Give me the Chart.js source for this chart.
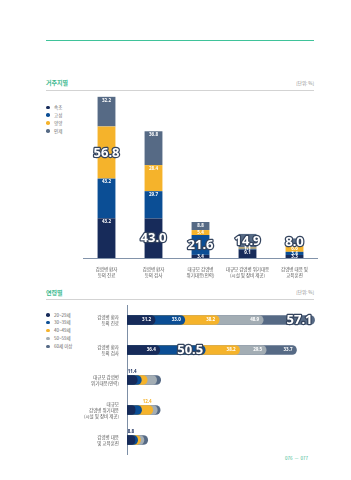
<!DOCTYPE html>
<html>
<head>
<meta charset="utf-8">
<script src="https://cdn.jsdelivr.net/npm/chart.js@4"></script>
<style>
  body { margin: 0; width: 351px; height: 480px; position: relative; background: #fff; overflow: hidden;
         font-family: "Noto Sans CJK KR", "Noto Sans", sans-serif; }
  .abs { position: absolute; }
  .topline { left: 46px; top: 40px; width: 268px; height: 1px; background: #3fc39a; }
  .head { left: 46px; font-size: 6px; font-weight: bold; color: #3cb98f; line-height: 6px; }
  .rule { left: 46px; width: 268px; height: 1px; background: #d3d3d3; }
  .unit { right: 37px; font-size: 4.5px; color: #888; line-height: 5px; }
  .legend { left: 46px; font-size: 4.5px; color: #666; }
  .legend div { height: 7.9px; line-height: 4.5px; position: relative; padding-left: 8px; }
  .legend i { position: absolute; left: 0; top: 0.5px; width: 3.6px; height: 3.6px; border-radius: 50%; }
  .page { left: 285px; top: 456px; font-size: 4.5px; color: #3cb98f; line-height: 5px; }
  .box { position: absolute; }
</style>
</head>
<body>
<div class="abs topline"></div>

<div class="abs head" style="top:80px">거주지별</div>
<div class="abs unit" style="top:81px">[단위: %]</div>
<div class="abs rule" style="top:90px"></div>
<div class="abs legend" style="top:105px">
  <div><i style="background:#172b5a"></i>속초</div>
  <div><i style="background:#0b4e95"></i>고성</div>
  <div><i style="background:#f5b32b"></i>양양</div>
  <div><i style="background:#566a85"></i>인제</div>
</div>
<div class="box" style="left:83px;top:88px;width:235px;height:196px"><canvas id="regionChart"></canvas></div>

<div class="abs head" style="top:290px">연령별</div>
<div class="abs unit" style="top:290px">[단위: %]</div>
<div class="abs rule" style="top:299px"></div>
<div class="abs legend" style="top:312.5px">
  <div><i style="background:#172b5a"></i>20~29세</div>
  <div><i style="background:#0b4e95"></i>30~39세</div>
  <div><i style="background:#f5b32b"></i>40~49세</div>
  <div><i style="background:#a3adb4"></i>50~59세</div>
  <div><i style="background:#566a85"></i>60세 이상</div>
</div>
<div class="box" style="left:40px;top:305px;width:276px;height:150px"><canvas id="ageChart"></canvas></div>

<div class="abs page">076 &nbsp;— &nbsp;077</div>

<script>
// 거주지별 (stacked columns)
const regionLabels = [
  ['감염병 환자', '등의 진료'],
  ['감염병 환자', '등의 검사'],
  ['대규모 감염병', '위기대응(인력)'],
  ['대규모 감염병 위기대응', '(시설 및 장비 제공)'],
  ['감염병 대응 및', '교육훈련']
];
const regionNames = ['속초', '고성', '양양', '인제'];
const sokcho = [43.2, 43.0, 3.4, 9.1, 3.3];
const goseong = [43.2, 29.7, 21.6, 1.1, 3.4];
const yangyang = [56.8, 28.4, 5.4, 1.1, 6.6];
const inje = [32.2, 36.8, 8.8, 14.9, 8.0];

// 연령별 (overlapping rounded bars)
const ageLabels = [
  ['감염병 환자', '등의 진료'],
  ['감염병 환자', '등의 검사'],
  ['대규모 감염병', '위기대응(인력)'],
  ['대규모', '감염병 위기대응', '(시설 및 장비 제공)'],
  ['감염병 대응', '및 교육훈련']
];
const ageNames = ['20~29세', '30~39세', '40~49세', '50~59세', '60세 이상'];
const age20 = [31.2, 36.4, 11.4, 9.0, 8.8];
const age30 = [33.0, 50.5, 4.5, 7.2, 3.0];
const age40 = [38.2, 38.2, 6.5, 12.4, 3.2];
const age50 = [48.9, 29.5, 10.5, 5.0, 3.8];
const age60 = [57.1, 33.7, 4.5, 3.2, 4.2];

const NAVY = '#172b5a', BLUE = '#0b4e95', YELLOW = '#f5b32b', SLATE = '#566a85', LIGHT = '#a3adb4';
const numFont = '"Noto Sans", "DejaVu Sans", sans-serif';

function bigText(ctx, txt, x, y, align) {
  ctx.save();
  ctx.font = 'bold 13px ' + numFont;
  ctx.textAlign = align;
  ctx.textBaseline = 'middle';
  ctx.lineJoin = 'round';
  ctx.lineWidth = 2.5;
  ctx.strokeStyle = '#34445e';
  ctx.strokeText(txt, x, y);
  ctx.fillStyle = '#fff';
  ctx.fillText(txt, x, y);
  ctx.restore();
}

function smallText(ctx, txt, x, y, color, align) {
  ctx.save();
  ctx.font = 'bold 4.5px ' + numFont;
  ctx.textAlign = align || 'center';
  ctx.textBaseline = 'middle';
  ctx.fillStyle = color;
  ctx.fillText(txt, x, y);
  ctx.restore();
}

const columnLabels = {
  id: 'columnLabels',
  afterDatasetsDraw(chart) {
    const ctx = chart.ctx;
    const sets = chart.data.datasets;
    chart.data.labels.forEach((_, i) => {
      let maxDs = 0;
      sets.forEach((ds, d) => { if (ds.data[i] > sets[maxDs].data[i]) maxDs = d; });
      sets.forEach((ds, d) => {
        const bar = chart.getDatasetMeta(d).data[i];
        const top = bar.y, bottom = bar.base;
        if (d === maxDs) {
          bigText(ctx, ds.data[i].toFixed(1), bar.x, (top + bottom) / 2 + 0.5, 'center');
        } else {
          smallText(ctx, ds.data[i].toFixed(1), bar.x, Math.min(top + 3.5, (top + bottom) / 2), '#fff');
        }
      });
    });
  }
};

new Chart(document.getElementById('regionChart'), {
  type: 'bar',
  data: {
    labels: regionLabels,
    datasets: [
      { label: regionNames[0], data: sokcho, backgroundColor: NAVY },
      { label: regionNames[1], data: goseong, backgroundColor: BLUE },
      { label: regionNames[2], data: yangyang, backgroundColor: YELLOW },
      { label: regionNames[3], data: inje, backgroundColor: SLATE }
    ]
  },
  options: {
    responsive: true,
    maintainAspectRatio: false,
    animation: false,
    layout: { padding: 0 },
    datasets: { bar: { barPercentage: 0.38, categoryPercentage: 1, borderWidth: 0 } },
    scales: {
      x: {
        stacked: true,
        grid: { display: false, drawTicks: false },
        border: { color: '#8293aa', width: 1 },
        ticks: {
          font: { family: '"Noto Sans CJK KR", sans-serif', size: 4.5, lineHeight: 1.35 },
          color: '#555',
          padding: 8,
          maxRotation: 0,
          autoSkip: false
        },
        afterFit(scale) { scale.height = 26; scale.paddingLeft = 0; scale.paddingRight = 0; }
      },
      y: { stacked: true, display: false, min: 0, max: 185 }
    },
    plugins: { legend: { display: false }, tooltip: { enabled: false } }
  },
  plugins: [columnLabels]
});

// cumulative ends, so every pill starts at the axis and shorter ones sit on top
const ageSeries = [age20, age30, age40, age50, age60];
const ageColors = [NAVY, BLUE, YELLOW, LIGHT, SLATE];
const ageEnds = ageSeries.map((s, k) =>
  s.map((_, i) => ageSeries.slice(0, k + 1).reduce((sum, arr) => sum + arr[i], 0)));

const pillLabels = {
  id: 'pillLabels',
  afterDatasetsDraw(chart) {
    const ctx = chart.ctx;
    ageLabels.forEach((_, i) => {
      let maxDs = 0;
      ageSeries.forEach((s, d) => { if (s[i] > ageSeries[maxDs][i]) maxDs = d; });
      const total = ageEnds[4][i];
      ageSeries.forEach((s, d) => {
        const bar = chart.getDatasetMeta(d).data[i];
        const prev = d === 0 ? bar.base : chart.getDatasetMeta(d - 1).data[i].x;
        if (total > 100) {
          if (d === maxDs) bigText(ctx, s[i].toFixed(1), bar.x - 2, bar.y + 0.5, 'right');
          else smallText(ctx, s[i].toFixed(1), bar.x - 4, bar.y, '#fff', 'right');
        } else if (d === maxDs) {
          smallText(ctx, s[i].toFixed(1), (prev + bar.x) / 2, bar.y - 8, ageColors[d], 'center');
        }
      });
    });
  }
};

new Chart(document.getElementById('ageChart'), {
  type: 'bar',
  data: {
    labels: ageLabels,
    datasets: ageSeries.map((s, k) => ({
      label: ageNames[k],
      data: ageEnds[k],
      backgroundColor: ageColors[k]
    }))
  },
  options: {
    indexAxis: 'y',
    responsive: true,
    maintainAspectRatio: false,
    animation: false,
    layout: { padding: 0 },
    datasets: { bar: { grouped: false, barThickness: 9, borderRadius: 4.5, borderSkipped: 'start', borderWidth: 0 } },
    scales: {
      x: { display: false, min: 0, max: 210 },
      y: {
        grid: { display: false, drawTicks: false },
        border: { color: '#7d8fa6', width: 1 },
        ticks: {
          font: { family: '"Noto Sans CJK KR", sans-serif', size: 4.5, lineHeight: 1.35 },
          color: '#555',
          padding: 8,
          autoSkip: false
        },
        afterFit(scale) { scale.width = 87; scale.paddingTop = 0; scale.paddingBottom = 0; }
      }
    },
    plugins: { legend: { display: false }, tooltip: { enabled: false } }
  },
  plugins: [pillLabels]
});
</script>
</body>
</html>
